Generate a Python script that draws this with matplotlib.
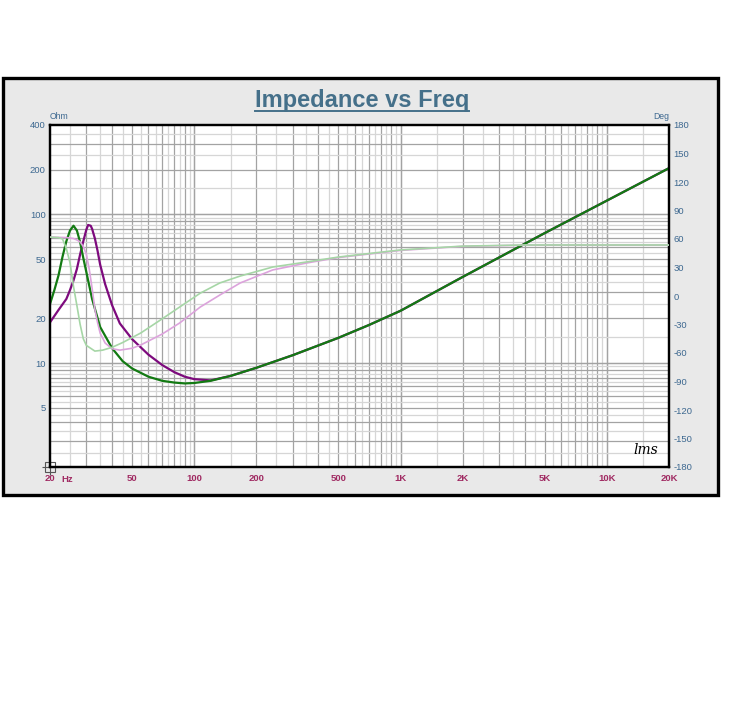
import matplotlib
matplotlib.use("Agg")
import matplotlib.pyplot as plt
from matplotlib.patches import Rectangle
from matplotlib.lines import Line2D

# impedance magnitude (ohm), left axis
freq_z1 = [20, 21, 22, 23, 24, 25, 26, 27, 28, 29, 30, 32, 35, 40, 45, 50, 60, 70, 80,
           90, 100, 120, 150, 200, 300, 500, 700, 1000, 2000, 5000, 10000, 20000]
z1 = [25, 31, 39, 52, 66, 78, 84, 78, 65, 51, 41, 27, 17.5, 12.6, 10.3, 9.2, 8.1, 7.6, 7.4,
      7.3, 7.35, 7.6, 8.2, 9.3, 11.3, 14.8, 18, 22.5, 38, 75, 124, 205]

freq_z2 = [20, 22, 24, 25, 26, 27, 28, 29, 30, 30.6, 31.5, 32, 33, 34, 35, 37, 40, 43.6, 50,
           60, 70, 80, 90, 100, 120, 150, 200, 300, 500, 700, 1000, 2000, 5000, 10000, 20000]
z2 = [18.8, 22.8, 27, 31, 36, 43, 54, 66, 79, 85, 84, 80, 69, 57, 46, 34, 24.5, 18.5, 14.5,
      11.4, 9.7, 8.7, 8.1, 7.8, 7.65, 8.2, 9.3, 11.3, 14.8, 18, 22.5, 38, 75, 124, 205]

# phase (deg), right axis
freq_p1 = [20, 22, 23, 24, 25, 26, 27, 28, 29, 30, 33, 36, 40, 45, 55, 70, 85, 107, 133,
           167, 240, 350, 500, 1000, 2000, 4000, 20000]
p1 = [62, 61.5, 60, 50, 35, 10, -10, -30, -45, -52, -58, -57, -54, -49, -39, -24, -11.6, 3,
      13.7, 21, 30.5, 35.8, 41, 48.5, 52.5, 53.7, 53.7]

freq_p2 = [20, 24, 26, 27, 28, 29, 30, 31, 32, 33, 34, 35, 37, 40, 43.6, 50, 55, 70, 85,
           107, 133, 167, 240, 350, 500, 1000, 2000, 4000, 20000]
p2 = [62, 61.5, 60.5, 59, 57, 52, 44, 28, 8, -14, -28, -39, -49.5, -55.5, -57, -55, -51.6,
      -40, -28.4, -11.6, 1, 13.7, 27.4, 34.7, 40.5, 48, 52.3, 53.5, 53.5]

x_ticks = [20, 50, 100, 200, 500, 1000, 2000, 5000, 10000, 20000]
x_labels = ["20", "50", "100", "200", "500", "1K", "2K", "5K", "10K", "20K"]
ohm_ticks = [5, 10, 20, 50, 100, 200, 400]
deg_ticks = list(range(-180, 181, 30))

BLUE = "#3d6890"
RED = "#a02a62"
DARK = "#a3a3a3"
LIGHT = "#d6d6d6"

plt.rcParams["font.family"] = ["Liberation Sans", "DejaVu Sans"]
plt.rcParams["axes.unicode_minus"] = False

fig = plt.figure(figsize=(7.44, 7.27), dpi=100)
fig.patch.set_facecolor("white")

# grey panel with black frame
fig.add_artist(Rectangle((3 / 744, 1 - 495 / 727), 715 / 744, 417 / 727,
                         transform=fig.transFigure, facecolor="#e9e9e9",
                         edgecolor="black", linewidth=2.4, zorder=0))

ax = fig.add_axes([50 / 744, 1 - 467 / 727, 619 / 744, 342 / 727])
ax.set_xscale("log")
ax.set_yscale("log")
ax.set_xlim(20, 20000)
ax.set_ylim(2, 400)
ax.set_facecolor("white")

# LMS style grid: 20 steps per decade, integer steps darker
for dec in [10, 100, 1000, 10000]:
    for k in range(2, 21):
        f = dec * k / 2
        if 20 < f < 20000:
            ax.axvline(f, color=DARK if k % 2 == 0 else LIGHT, lw=0.9, zorder=1)
for dec in [1, 10, 100]:
    for k in range(2, 21):
        v = dec * k / 2
        if 2 < v < 400:
            ax.axhline(v, color=DARK if k % 2 == 0 else LIGHT, lw=0.9, zorder=1)

ax.set_xticks(x_ticks)
ax.set_xticklabels(x_labels)
ax.xaxis.set_minor_locator(matplotlib.ticker.NullLocator())
ax.set_yticks(ohm_ticks)
ax.set_yticklabels([str(t) for t in ohm_ticks])
ax.yaxis.set_minor_locator(matplotlib.ticker.NullLocator())
ax.tick_params(axis="x", length=0, pad=5, labelsize=6.8, labelcolor=RED)
ax.tick_params(axis="y", length=0, pad=3, labelsize=6.8, labelcolor=BLUE)
for lab in ax.get_xticklabels():
    lab.set_fontweight("bold")

ax2 = ax.twinx()
ax2.set_ylim(-180, 180)
ax2.set_yticks(deg_ticks)
ax2.set_yticklabels([str(t) for t in deg_ticks])
ax2.tick_params(axis="y", length=0, pad=3, labelsize=6.8, labelcolor=BLUE)

for a in (ax, ax2):
    for s in a.spines.values():
        s.set_color("black")
        s.set_linewidth(1.6)

ax2.plot(freq_p2, p2, color="#dca3dc", lw=1.2, zorder=3)
ax2.plot(freq_p1, p1, color="#a6d6a6", lw=1.2, zorder=3)
ax.plot(freq_z2, z2, color="#7d0a7d", lw=1.6, zorder=4)
ax.plot(freq_z1, z1, color="#137a13", lw=1.6, zorder=4)
ax.set_zorder(2)
ax2.set_zorder(3)
ax2.patch.set_visible(False)

ax.text(0.0, 1.012, "Ohm", transform=ax.transAxes, color=BLUE, fontsize=6.2,
        ha="left", va="bottom")
ax.text(1.0, 1.012, "Deg", transform=ax.transAxes, color=BLUE, fontsize=6.2,
        ha="right", va="bottom")
ax.text(0.028, -0.024, "Hz", transform=ax.transAxes, color=RED, fontsize=6.8,
        fontweight="bold", ha="center", va="top")
ax.text(0.983, 0.03, "lms", transform=ax.transAxes, color="black", fontsize=10,
        family="DejaVu Serif", style="italic", ha="right", va="bottom", zorder=6)
ax.plot([0], [0], transform=ax.transAxes, marker="s", ms=7, mfc="none", mec="#555555",
        mew=0.8, clip_on=False, zorder=7)
ax.plot([0], [0], transform=ax.transAxes, marker="+", ms=11, mec="#555555",
        mew=0.8, clip_on=False, zorder=7)

title = fig.text(362 / 744, 1 - 100 / 727, "Impedance vs Freq", color="#45708a",
                 fontsize=17, fontweight="bold", ha="center", va="center")
fig.canvas.draw()
bb = title.get_window_extent().transformed(fig.transFigure.inverted())
fig.add_artist(Line2D([bb.x0, bb.x1], [1 - 111 / 727] * 2, transform=fig.transFigure,
                      color="#45708a", lw=1.4))

fig.savefig("out.png", dpi=100, facecolor="white")
